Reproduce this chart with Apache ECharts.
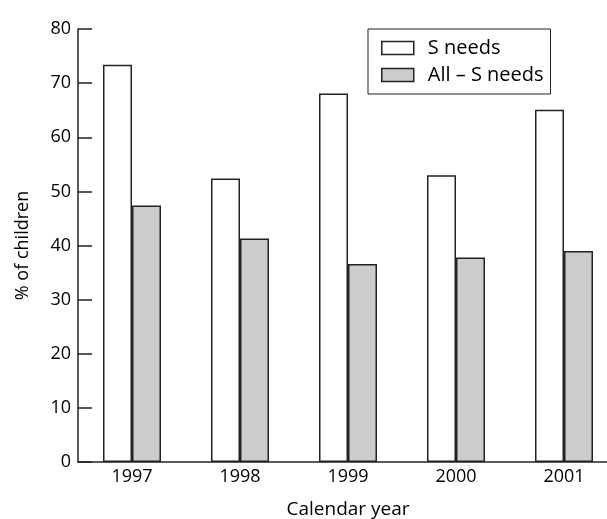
<!DOCTYPE html>
<html>
<head>
<meta charset="utf-8">
<script src="https://cdn.jsdelivr.net/npm/echarts@6/dist/echarts.min.js"></script>
<style>html,body{margin:0;padding:0;background:#fff}#c{width:607px;height:519px}</style>
</head>
<body>
<div id="c"></div>
<script>
const years = ['1997', '1998', '1999', '2000', '2001'];
const sNeeds = [73.4, 52.4, 68.1, 53.0, 65.1];
const allMinusSNeeds = [47.4, 41.3, 36.6, 37.8, 39.0];
const yTicks = [0, 10, 20, 30, 40, 50, 60, 70, 80];

const FONT = 'Open Sans';
const chart = echarts.init(document.getElementById('c'), null, {renderer: 'canvas'});
chart.setOption({
  animation: false,
  backgroundColor: '#fff',
  textStyle: {fontFamily: FONT, color: '#000'},
  grid: {left: 78, width: 540, top: 29, height: 433, containLabel: false, outerBoundsMode: 'none'},
  legend: {
    orient: 'vertical',
    left: 368, top: 29,
    padding: [9, 7, 9, 13],
    borderColor: '#222', borderWidth: 1,
    icon: 'rect',
    itemWidth: 32, itemHeight: 13, itemGap: 7,
    itemStyle: {borderColor: '#222', borderWidth: 1.5},
    textStyle: {fontFamily: FONT, fontSize: 20, color: '#000', padding: [0, 0, 0, 9]},
    data: ['S needs', 'All – S needs']
  },
  xAxis: {
    type: 'category',
    data: years,
    name: 'Calendar year',
    nameLocation: 'middle',
    nameGap: 38,
    nameTextStyle: {fontFamily: FONT, fontSize: 19, color: '#000'},
    axisLine: {lineStyle: {color: '#222', width: 1.5}},
    axisTick: {inside: true, length: 15, lineStyle: {color: '#222', width: 1.5}},
    axisLabel: {fontFamily: FONT, fontSize: 18, color: '#000', margin: 6},
    splitLine: {show: false}
  },
  yAxis: {
    type: 'value',
    min: yTicks[0], max: yTicks[yTicks.length - 1], interval: 10,
    name: '% of children',
    nameLocation: 'middle',
    nameGap: 46,
    nameTextStyle: {fontFamily: FONT, fontSize: 18, color: '#000'},
    axisLine: {show: true, lineStyle: {color: '#222', width: 1.5}},
    axisTick: {show: true, inside: true, length: 14, lineStyle: {color: '#222', width: 1.5}},
    axisLabel: {fontFamily: FONT, fontSize: 18, color: '#000', margin: 7},
    splitLine: {show: false}
  },
  series: [
    {
      name: 'S needs', type: 'bar', data: sNeeds,
      barWidth: 29, barGap: '0%',
      itemStyle: {color: '#ffffff', borderColor: '#222', borderWidth: 1.5}
    },
    {
      name: 'All – S needs', type: 'bar', data: allMinusSNeeds,
      barWidth: 29, barGap: '0%',
      itemStyle: {color: '#cccccc', borderColor: '#222', borderWidth: 1.5}
    }
  ]
});
</script>
</body>
</html>
